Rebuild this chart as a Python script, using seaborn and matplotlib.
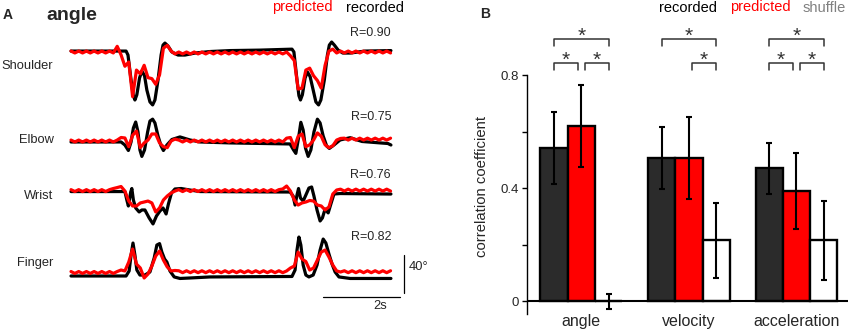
import numpy as np
import pandas as pd
import matplotlib
matplotlib.use("Agg")
import matplotlib.pyplot as plt
import seaborn as sns

sns.set_theme(style="white")
plt.rcParams["font.family"] = ["Liberation Sans", "DejaVu Sans"]

# ---------------- panel A data (time in s, angle in deg) ----------------
joints = ["Shoulder", "Elbow", "Wrist", "Finger"]
r_values = [0.90, 0.75, 0.76, 0.82]

shoulder_t = [0, 1.43, 1.48, 1.56, 1.62, 1.66, 1.71, 1.78, 1.84, 1.91,
              1.97, 2.05, 2.12, 2.18, 2.26, 2.34, 2.39, 2.44, 2.52, 2.62,
              2.78, 2.96, 3.22, 3.61, 4.13, 4.91, 5.74, 5.79, 5.87, 5.92,
              5.96, 6.01, 6.08, 6.14, 6.21, 6.29, 6.36, 6.43, 6.49, 6.58,
              6.66, 6.71, 6.77, 6.84, 6.94, 7.06, 7.25, 7.64, 8.31]
shoulder_rec = [0, 0, -4.2, -30.5, -47, -51.5, -46, -28.4, -21, -26,
                -41, -53.5, -56.7, -51.5, -30.5, -4.2, 6.3, 8.4, 5.3, -1,
                -4.2, -4.2, -2.1, -0.5, 0.5, 1, 2, -1, -30.5, -47,
                -51.5, -46, -28.4, -22, -26.8, -41, -53.5, -56.7, -51.5, -30.5,
                -4.2, 6.3, 9.5, 6.3, 1, -2.1, -2.1, 0, 0.5]

elbow_t = [0, 1.30, 1.40, 1.49, 1.56, 1.62, 1.68, 1.74, 1.79, 1.84,
           1.91, 1.99, 2.05, 2.12, 2.18, 2.26, 2.34, 2.40, 2.49, 2.62,
           2.83, 3.09, 3.35, 4.13, 5.69, 5.78, 5.84, 5.91, 5.97, 6.03,
           6.09, 6.16, 6.23, 6.31, 6.40, 6.47, 6.55, 6.64, 6.71, 6.83,
           6.99, 7.25, 7.56, 8.03, 8.23, 8.31]
elbow_rec = [0, 0, -3.2, -9, 0, 14.7, 21, 10.5, -8.4, -15.2,
             -8.4, 10.5, 22, 24, 20, 6.3, -4.2, -9, -3.2, 2.6,
             5.3, 2.1, 0, -1, -2.1, -8.4, -12, 4.2, 20.7, 12.6,
             -6.3, -15.2, -8.4, 10.5, 24, 20, 6.3, -4.2, -6.8, -3.2,
             2.1, 4.5, 0.5, -1, -1.6, -3.2]

wrist_t = [0, 1.40, 1.45, 1.49, 1.55, 1.58, 1.62, 1.68, 1.77, 1.84,
           1.92, 2.03, 2.13, 2.22, 2.31, 2.39, 2.47, 2.53, 2.61, 2.70,
           2.86, 3.09, 3.35, 5.69, 5.77, 5.82, 5.87, 5.91, 5.96, 6.03,
           6.10, 6.18, 6.25, 6.31, 6.39, 6.47, 6.53, 6.60, 6.68, 6.75,
           6.83, 6.99, 8.31]
wrist_rec = [0.5, 0.5, -8.4, -14.7, 0, 3.7, -8.4, -16.8, -21, -18.9,
             -18.9, -27.3, -33.6, -25.2, -20, -16.8, -23.1, -12.6, -1, 3.2,
             3.7, 2.1, 0.5, 0, -4.2, -13.7, -3.2, 3.7, -6.3, -9.5,
             -3.2, 4.2, 5.3, -4.2, -18.9, -30.5, -27.3, -17.9, -22, -12.6,
             -2.1, -1.6, -2.1]

finger_t = [0, 1.43, 1.51, 1.56, 1.61, 1.66, 1.71, 1.79, 1.92, 2.05,
            2.16, 2.23, 2.30, 2.36, 2.43, 2.49, 2.57, 2.68, 2.83, 3.09,
            3.61, 5.74, 5.82, 5.87, 5.92, 5.97, 6.03, 6.10, 6.18, 6.29,
            6.39, 6.47, 6.55, 6.62, 6.70, 6.78, 6.86, 6.96, 7.25, 8.31]
finger_rec = [0, 0, 5.3, 22, 34.7, 22, 6.3, 1, 1, 4.2,
              18.9, 32.6, 34.1, 25.2, 17.9, 14.7, 5.3, -1, -2.6, -2.1,
              -1, -0.5, 6.3, 27.3, 41, 32.6, 11.5, 1, -1, 1,
              11.5, 27.3, 38.9, 34.7, 23.1, 12.6, 4.2, -1, -2.6, -2.6]

# predicted traces, sampled every 0.1 s from 0 to 8.3 s
pred_t = np.round(np.arange(84) * 0.1, 2)
shoulder_pred = [0, -2, 0, -2, 0, -2, 0, -2, 0, -2, 0, -2,
                 5, -4, -16, -11.5, -48, -20, -24, -15, -28, -29, -35, -25, 3, 6, 0, -3,
                 -1, -3, -1, -3, -1, -3, -1, -3, -1, -3, -1, -3, -1, -3, -1, -3,
                 -1, -3, -1, -3, -1, -3, -1, -3, -1, -3, -1, -3, -1,
                 -5, -10, -40, -39, -20, -18, -26, -31, -39, -15, 0, 2, -2,
                 0, -2, 0, -2, 0, -2, 0, -2, 0, -2, 0, -2, 0, -2]
elbow_pred = [2, 0, 2, 0, 2, 0, 2, 0, 2, 0, 2, 0,
              2, 4.7, 4.2, -5, 7, 11.5, -6, -1, 2, 8.4, 8.4, -1, -5, -6, 1, 3,
              2, 0, 2, 0, 2, 0, 2, 0, 2, 0, 2, 0, 2, 0, 2, 0,
              2, 0, 2, 0, 2, 0, 2, 0, 2, 0, 2, 0,
              4, 4.7, -6, 6, 8.4, -5, -3, 2, 9.5, 6, -3, -6, -4, 2, 3.7,
              4, 2, 4, 2, 4, 2, 4, 2, 4, 2, 4, 2, 4]
wrist_pred = [2.5, 0.5, 2.5, 0.5, 2.5, 0.5, 2.5, 0.5, 2.5, 0.5, 2.5,
              3.7, 4.7, 5.8, 1, -9.5, -14.7, -14.7, -11.5, -10.5, -9.5, -11.5, -21, -16.8,
              -8.4, -4.2, -1, 1,
              2.5, 0.5, 2.5, 0.5, 2.5, 0.5, 2.5, 0.5, 2.5, 0.5, 2.5, 0.5, 2.5, 0.5,
              2.5, 0.5, 2.5, 0.5, 2.5, 0.5, 2.5, 0.5, 2.5, 0.5, 2.5, 0.5, 2.5,
              3.2, 6.3, 1, -8.4, -13.7, -11.5, -10.5, -8.9, -9.5, -13.7, -14.7, -18.9, -15.7,
              -2.1, 2.1,
              3, 1, 3, 1, 3, 1, 3, 1, 3, 1, 3, 1, 3, 1]
finger_pred = [4.7, 2.7, 4.7, 2.7, 4.7, 2.7, 4.7, 2.7, 4.7, 2.7, 4.7, 2.7, 4.7,
               6.3, 5.3, 14.7, 28.4, 12.6, 8.4, -2.1, 2.1, 10.5, 21, 26.3, 16.8, 9.5, 5.3, 5.8,
               5.5, 3.5, 5.5, 3.5, 5.5, 3.5, 5.5, 3.5, 5.5, 3.5, 5.5, 3.5, 5.5, 3.5,
               5.5, 3.5, 5.5, 3.5, 5.5, 3.5, 5.5, 3.5, 5.5, 3.5, 5.5, 3.5, 5.5, 3.5,
               5.3, 8.4, 10.5, 25.2, 17.9, 15.2, 6.3, 8.4, 16.8, 25.2, 27.3, 19.9, 11.5, 5.3, 4.2,
               5.5, 3.5, 5.5, 3.5, 5.5, 3.5, 5.5, 3.5, 5.5, 3.5, 5.5, 3.5, 5.5]

rec_traces = [(shoulder_t, shoulder_rec), (elbow_t, elbow_rec),
              (wrist_t, wrist_rec), (finger_t, finger_rec)]
pred_traces = [shoulder_pred, elbow_pred, wrist_pred, finger_pred]

# ---------------- panel B data ----------------
measures = ["angle", "velocity", "acceleration"]
conditions = ["recorded", "predicted", "shuffle"]
corr_recorded = [0.543, 0.507, 0.470]
corr_predicted = [0.620, 0.507, 0.390]
corr_shuffle = [0.0, 0.215, 0.215]
err_recorded = [0.127, 0.110, 0.090]
err_predicted = [0.146, 0.145, 0.133]
err_shuffle = [0.026, 0.134, 0.140]
# significance brackets: (measure, condition a, condition b, level)
sig_pairs = [("angle", "recorded", "shuffle", 1),
             ("angle", "recorded", "predicted", 0),
             ("angle", "predicted", "shuffle", 0),
             ("velocity", "recorded", "shuffle", 1),
             ("velocity", "predicted", "shuffle", 0),
             ("acceleration", "recorded", "shuffle", 1),
             ("acceleration", "recorded", "predicted", 0),
             ("acceleration", "predicted", "shuffle", 0)]

W, H = 850, 329
fig = plt.figure(figsize=(W / 100, H / 100), dpi=100)


def fx(x):
    return x / W


def fy(y):
    return 1 - y / H


# ---------------- panel A ----------------
axA = fig.add_axes([fx(60), fy(310), 360 / W, 290 / H])
offsets = [236.8, 141.1, 88.4, 0.0]
for (t, rec), pred, off in zip(rec_traces, pred_traces, offsets):
    sns.lineplot(x=t, y=np.array(rec) + off, color="black", lw=2.3, ax=axA)
    sns.lineplot(x=pred_t, y=np.array(pred) + off, color="red", lw=2.3, ax=axA)
axA.set_xlim(-0.286, 9.065)
axA.set_ylim(-35.8, 269.5)
axA.axis("off")

# scale bars
axA.plot([6.55, 6.55 + 2], [-21.8, -21.8], color="black", lw=0.9)
axA.plot([8.65, 8.65], [-17.9, -17.9 + 40], color="black", lw=0.9)
fig.text(fx(380), fy(306), "2s", ha="center", va="center", fontsize=9.3)
fig.text(fx(409), fy(267), "40°", ha="left", va="center", fontsize=9.3)

label_y = [66, 140, 196, 263]
r_y = [32.5, 117, 175, 237.5]
for name, ly, r, ry in zip(joints, label_y, r_values, r_y):
    fig.text(fx(53.5), fy(ly), name, ha="right", va="center", fontsize=9.3)
    fig.text(fx(391), fy(ry), f"R={r:.2f}", ha="right", va="center", fontsize=9)

fig.text(fx(3), fy(15), "A", ha="left", va="center", fontsize=10, fontweight="bold")
fig.text(fx(46), fy(15), "angle", ha="left", va="center", fontsize=14, fontweight="bold")
fig.text(fx(272.5), fy(7.5), "predicted", ha="left", va="center", fontsize=10.5, color="red")
fig.text(fx(346), fy(7.5), "recorded", ha="left", va="center", fontsize=10.5, color="black")

# ---------------- panel B ----------------
axB = fig.add_axes([fx(527), fy(313.7), 321 / W, (313.7 - 75) / H])
df = pd.DataFrame({
    "measure": measures * 3,
    "condition": np.repeat(conditions, len(measures)),
    "r": corr_recorded + corr_predicted + corr_shuffle,
})
errs = [err_recorded, err_predicted, err_shuffle]
bar_colors = ["#2b2b2b", "#ff0000", "#ffffff"]
sns.barplot(data=df, x="measure", y="r", hue="condition", order=measures,
            hue_order=conditions, palette=bar_colors, saturation=1, width=0.76,
            edgecolor="black", linewidth=1.7, errorbar=None, legend=False, ax=axB)

centers = {}
for cond, cont, err in zip(conditions, axB.containers, errs):
    for meas, bar, e in zip(measures, cont, err):
        cx = bar.get_x() + bar.get_width() / 2
        centers[(meas, cond)] = cx
        axB.errorbar(cx, bar.get_height(), yerr=e, color="black", lw=1.5,
                     capsize=2, capthick=1.5, zorder=5)

axB.set_xlim(-0.505, 2.479)
axB.set_ylim(-0.044, 0.8)
axB.axhline(0, color="black", lw=1.5, zorder=6)
sns.despine(ax=axB, bottom=True)
axB.spines["left"].set_bounds(-0.044, 0.8)
axB.spines["left"].set_linewidth(1)
axB.spines["left"].set_color("black")
axB.set_yticks([0, 0.2, 0.4, 0.6, 0.8])
axB.set_yticklabels(["0", "", "0.4", "", "0.8"])
axB.tick_params(axis="y", left=True, length=3.5, width=1, color="black",
                labelsize=9.5, pad=2)
axB.tick_params(axis="x", length=0, labelsize=11.5, pad=0)
axB.set_xlabel("")
axB.set_ylabel("correlation coefficient", fontsize=10.7)
axB.yaxis.set_label_coords(-0.118, 0.532)

bracket_top = {1: 0.927, 0: 0.843}
bracket_drop = 0.025
star_y = {1: 0.935, 0: 0.851}
for meas, a, b, level in sig_pairs:
    x0, x1 = centers[(meas, a)], centers[(meas, b)]
    if level == 0:
        if a == "predicted":
            x0 += 0.03
        if b == "predicted":
            x1 -= 0.035
    top = bracket_top[level]
    axB.plot([x0, x0, x1, x1], [top - bracket_drop, top, top, top - bracket_drop],
             color="#333333", lw=1.1, clip_on=False)
    axB.text((x0 + x1) / 2, star_y[level], "*", ha="center", va="center",
             fontsize=15, color="#333333", clip_on=False)

fig.text(fx(480.5), fy(14.5), "B", ha="left", va="center", fontsize=10, fontweight="bold")
fig.text(fx(659), fy(7.5), "recorded", ha="left", va="center", fontsize=10.5, color="black")
fig.text(fx(730), fy(7.5), "predicted", ha="left", va="center", fontsize=10.5, color="red")
fig.text(fx(803), fy(7.5), "shuffle", ha="left", va="center", fontsize=10.5, color="#808080")

fig.savefig("out.png", dpi=100)
